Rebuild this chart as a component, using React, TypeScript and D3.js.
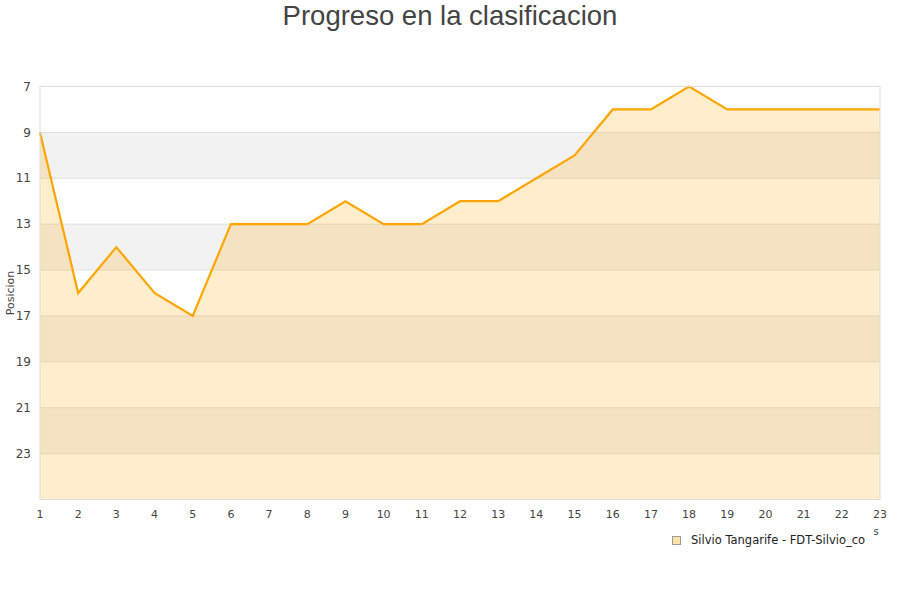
import React, { useRef, useEffect } from 'react'
import * as d3 from 'd3'

const rounds = d3.range(1, 24)
const positions = [9, 16, 14, 16, 17, 13, 13, 13, 12, 13, 13, 12, 12, 11, 10, 8, 8, 7, 8, 8, 8, 8, 8]
const yTicks = [7, 9, 11, 13, 15, 17, 19, 21, 23]
const seriesName = 'Silvio Tangarife - FDT-Silvio_co'
const title = 'Progreso en la clasificacion'

const App: React.FC = () => {
  const svgRef = useRef<SVGSVGElement | null>(null)
  const width = 900
  const height = 600
  const margin = { top: 86.5, right: 20, bottom: 100.5, left: 40 }

  useEffect(() => {
    if (!svgRef.current) return
    const svg = d3.select(svgRef.current)
    svg.selectAll('*').remove()

    const iw = width - margin.left - margin.right
    const ih = height - margin.top - margin.bottom
    const font = 'DejaVu Sans, sans-serif'

    const x = d3.scaleLinear().domain([1, 23]).range([0, iw])
    const y = d3.scaleLinear().domain([7, 25]).range([0, ih])

    const chart = svg.append('g').attr('transform', `translate(${margin.left},${margin.top})`)

    // alternating bands
    const bands = [9, 13, 17, 21]
    chart.selectAll('rect.band').data(bands).enter().append('rect')
      .attr('x', 0).attr('width', iw)
      .attr('y', d => y(d)).attr('height', d => y(d + 2) - y(d))
      .attr('fill', '#f2f2f2')

    // grid
    chart.selectAll('line.grid').data(yTicks.slice(1)).enter().append('line')
      .attr('x1', 0).attr('x2', iw)
      .attr('y1', d => y(d)).attr('y2', d => y(d))
      .attr('stroke', '#e0e0e0').attr('stroke-width', 1)

    const data = rounds.map((r, i) => ({ r, p: positions[i] }))

    const area = d3.area<{ r: number; p: number }>()
      .x(d => x(d.r)).y0(ih).y1(d => y(d.p))
    chart.append('path').datum(data)
      .attr('d', area)
      .attr('fill', 'rgba(255,165,0,0.2)')

    const line = d3.line<{ r: number; p: number }>()
      .x(d => x(d.r)).y(d => y(d.p))
    chart.append('path').datum(data)
      .attr('d', line)
      .attr('fill', 'none')
      .attr('stroke', '#ffa500')
      .attr('stroke-width', 2.2)

    // border
    chart.append('rect')
      .attr('x', 0).attr('y', 0).attr('width', iw).attr('height', ih)
      .attr('fill', 'none').attr('stroke', '#dddddd')

    // y labels
    chart.selectAll('text.yt').data(yTicks).enter().append('text')
      .attr('x', -9).attr('y', d => y(d)).attr('dy', '0.35em')
      .attr('text-anchor', 'end')
      .style('font-family', font).style('font-size', '12px').attr('fill', '#444')
      .text(d => d)

    // x labels
    chart.selectAll('text.xt').data(rounds).enter().append('text')
      .attr('x', d => x(d)).attr('y', ih + 18)
      .attr('text-anchor', 'middle')
      .style('font-family', font).style('font-size', '11px').attr('fill', '#444')
      .text(d => d)

    // axis titles
    svg.append('text')
      .attr('transform', `translate(14,${margin.top + y(16)}) rotate(-90)`)
      .attr('text-anchor', 'middle')
      .style('font-family', font).style('font-size', '11px').attr('fill', '#444')
      .text('Posicion')

    svg.append('text')
      .attr('x', 876).attr('y', 535)
      .attr('text-anchor', 'middle')
      .style('font-family', font).style('font-size', '10px').attr('fill', '#444')
      .text('s')

    // title
    svg.append('text')
      .attr('x', width / 2).attr('y', 25)
      .attr('text-anchor', 'middle')
      .style('font-family', 'Liberation Sans, Arial, sans-serif')
      .style('font-size', '27.5px').attr('fill', '#444')
      .text(title)

    // legend
    svg.append('rect')
      .attr('x', 672.5).attr('y', 536.5).attr('width', 8).attr('height', 8)
      .attr('fill', '#ffe2a8').attr('stroke', '#999')
    svg.append('text')
      .attr('x', 691).attr('y', 544)
      .style('font-family', font).style('font-size', '11.5px').attr('fill', '#222')
      .text(seriesName)
  }, [])

  return (
    <svg ref={svgRef} width={width} height={height}
      style={{ position: 'absolute', left: 0, top: 0, background: '#fff' }} />
  )
}

export default App
